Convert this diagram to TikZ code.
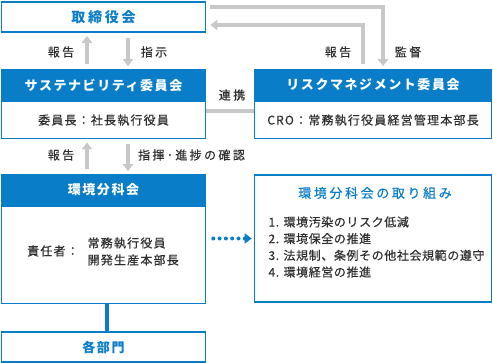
\documentclass[tikz,border=0pt]{standalone}
\usepackage{fontspec}
\setmainfont{Noto Sans CJK JP}
\newfontfamily\bodyfont{Noto Sans CJK JP}[LetterSpace=10, FakeBold=0.4]
\newfontfamily\listfont{Noto Sans CJK JP}[LetterSpace=5, FakeBold=0.4]
\newfontfamily\labelfont{Noto Sans CJK JP}[LetterSpace=20, FakeBold=0.4]
\newfontfamily\headfont{Noto Sans CJK JP}[LetterSpace=12]
\newfontfamily\boardfont{Noto Sans CJK JP}[LetterSpace=20]
\usetikzlibrary{positioning,arrows.meta}
\definecolor{corpblue}{HTML}{0A7DC8}
\definecolor{arrowgray}{HTML}{C8C8C8}
\definecolor{textgray}{HTML}{2E2E2E}
\begin{document}
\begin{tikzpicture}[x=1pt, y=-1pt,
    every node/.style={font=\bodyfont\fontsize{12}{15}\selectfont, text=textgray},
    frame/.style={draw=corpblue, line width=1.6pt, fill=white, inner sep=0pt, minimum height=30pt},
    head/.style={frame, fill=corpblue, text=white, font=\headfont\fontsize{13}{16}\selectfont\bfseries},
    tag/.style={font=\labelfont\fontsize{12}{15}\selectfont},
    garrow/.style={draw=arrowgray, line width=4pt, -{Triangle[length=7pt,width=10pt]}, shorten <=5pt, shorten >=3pt},
    gline/.style={draw=arrowgray, line width=4pt},
    dotarrow/.style={draw=corpblue, line width=4pt, line cap=round, dash pattern=on 0pt off 6.3pt,
        -{Triangle[length=7pt,width=10pt]}, shorten <=7pt, shorten >=2pt}]
    \useasboundingbox (0,0) rectangle (493,363);
    \node[frame, minimum width=204pt, text=corpblue, font=\boardfont\fontsize{14}{16}\selectfont\bfseries] (board) at (103.5,17) {取締役会};
    \node[head, minimum width=204pt] (sust) at (103.5,85) {サステナビリティ委員会};
    \node[frame, minimum width=204pt, minimum height=37pt, below=0pt of sust] (sustbody) {委員長：社長執行役員};
    \node[head, minimum width=237pt] (risk) at (373,85) {リスクマネジメント委員会};
    \node[frame, minimum width=237pt, minimum height=37pt, below=0pt of risk] (riskbody) {CRO：常務執行役員経営管理本部長};
    \node[head, minimum width=204pt] (env) at (103.5,190) {環境分科会};
    \node[frame, minimum width=204pt, minimum height=97pt, below=0pt of env] (envbody) {};
    \node (envlead) at (53,251) {責任者：};
    \node[align=left, anchor=west, font=\bodyfont\fontsize{12}{17}\selectfont] (envnames) at (84,251.5) {常務執行役員\\開発生産本部長};
    \node[frame, minimum width=204pt, text=corpblue, font=\headfont\fontsize{13}{16}\selectfont\bfseries] (depts) at (103.5,347) {各部門};
    \node[frame, minimum width=237pt, minimum height=127pt] (tasks) at (373,238.5) {};
    \node[text=corpblue, font=\labelfont\fontsize{13}{16}\selectfont] (taskstitle) at (375,193) {環境分科会の取り組み};
    \node[align=left, anchor=west, font=\listfont\fontsize{12}{16.7}\selectfont] (tasklist) at (265,247)
        {1. 環境汚染のリスク低減\\2. 環境保全の推進\\3. 法規制、条例その他社会規範の遵守\\4. 環境経営の推進};
    \draw[garrow] ([xshift=-16.5pt]sust.north) -- ([xshift=-16.5pt]board.south);
    \draw[garrow] ([xshift=24.5pt]board.south) -- ([xshift=24.5pt]sust.north);
    \draw[garrow] ([xshift=-16.5pt]env.north) -- ([xshift=-16.5pt]sustbody.south);
    \draw[garrow] ([xshift=24.5pt]sustbody.south) -- ([xshift=24.5pt]env.north);
    \draw[garrow, shorten >=4pt] ([xshift=-10pt]risk.north) |- ([yshift=-8pt]board.east);
    \draw[garrow, shorten <=4pt] ([yshift=10pt]board.east) -| ([xshift=10pt]risk.north);
    \draw[gline] ([yshift=9.5pt]sustbody.east) -- ([yshift=9.5pt]riskbody.west);
    \draw[dotarrow] (envbody.east |- tasks.west) -- (tasks.west);
    \draw[corpblue, line width=4pt] ([xshift=3.5pt]envbody.south) -- ([xshift=3.5pt]depts.north);
    \node[tag] (upreport) at (61,52) {報告};
    \node[tag] (downorder) at (154,52) {指示};
    \node[tag] (riskreport) at (338,52) {報告};
    \node[tag] (audit) at (408,52) {監督};
    \node[tag] (liaison) at (232,95) {連携};
    \node[tag] (envreport) at (61,155) {報告};
    \node[tag] (envorder) at (191.5,155) {指揮･進捗の確認};
\end{tikzpicture}
\end{document}
